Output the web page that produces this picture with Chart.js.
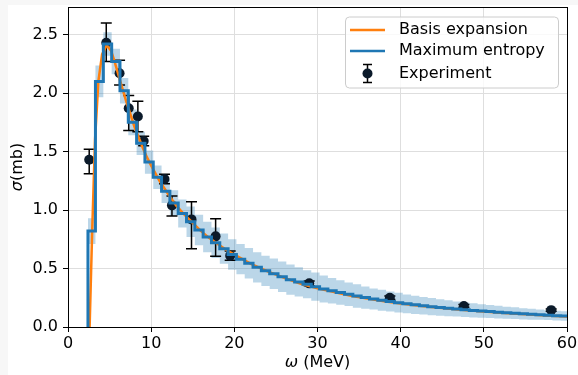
<!DOCTYPE html>
<html>
<head>
<meta charset="utf-8">
<script src="https://cdn.jsdelivr.net/npm/chart.js@4.4.1/dist/chart.umd.min.js"></script>
<style>
  body { margin: 0; background: #f7f7f7; }
  #wrap { position: absolute; left: 8px; top: 5px; width: 570px; height: 370px; background: #fff; }
  #sigmaChart { position: absolute; left: 0; top: -3px; }
</style>
</head>
<body>
<div id="wrap"><canvas id="sigmaChart" width="570" height="373"></canvas></div>
<script>
// maximum entropy histogram: bin edges (MeV), values and error (mb)
const binEdges = [2.4, 3.3, 4.25, 5.25, 6.25, 7.25, 8.25, 9.25, 10.25, 11.25, 12.25, 13.25, 14.25,
  15.25, 16.25, 17.25, 18.25, 19.25, 20.25, 21.25, 22.25, 23.25, 24.25, 25.25, 26.25, 27.25, 28.25,
  29.25, 30.25, 31.25, 32.25, 33.25, 34.25, 35.25, 36.25, 37.25, 38.25, 39.25, 40.25, 41.25, 42.25,
  43.25, 44.25, 45.25, 46.25, 47.25, 48.25, 49.25, 50.25, 51.25, 52.25, 53.25, 54.25, 55.25, 56.25,
  57.25, 58.25, 59.25, 60];
const meValues = [0.82, 2.10, 2.42, 2.27, 2.02, 1.75, 1.57, 1.41, 1.28, 1.16, 1.06, 0.97, 0.90,
  0.83, 0.77, 0.72, 0.67, 0.62, 0.58, 0.545, 0.51, 0.48, 0.455, 0.43, 0.405, 0.385, 0.365,
  0.345, 0.325, 0.31, 0.295, 0.28, 0.265, 0.252, 0.24, 0.228, 0.218, 0.208, 0.198, 0.19, 0.182,
  0.174, 0.167, 0.16, 0.154, 0.148, 0.142, 0.137, 0.132, 0.127, 0.122, 0.118, 0.113, 0.109, 0.105,
  0.101, 0.097, 0.094];
const meErr = [0.11, 0.135, 0.10, 0.11, 0.11, 0.11, 0.10, 0.10, 0.10, 0.10, 0.11, 0.12, 0.13,
  0.13, 0.13, 0.13, 0.13, 0.13, 0.13, 0.13, 0.13, 0.13, 0.13, 0.13, 0.13, 0.125, 0.12,
  0.12, 0.115, 0.11, 0.105, 0.10, 0.10, 0.095, 0.09, 0.09, 0.085, 0.085, 0.08, 0.078, 0.075,
  0.073, 0.07, 0.068, 0.065, 0.062, 0.06, 0.058, 0.056, 0.054, 0.052, 0.05, 0.048, 0.046, 0.044,
  0.042, 0.041, 0.04];

// basis expansion curve
const basisW = [2.6, 2.9, 3.25, 3.65, 4.1, 4.65, 5.2, 5.6, 6, 6.5, 7, 7.5, 8, 8.5, 9, 9.5, 10, 11, 12,
  13, 14, 15, 16, 17, 18, 19, 20, 22, 24, 26, 28, 30, 32, 34, 36, 38, 40, 42, 44, 46, 48, 50,
  52, 54, 56, 58, 60];
const basisS = [0, 0.8, 1.6, 2.1, 2.33, 2.41, 2.36, 2.27, 2.17, 2.05, 1.93, 1.82, 1.71, 1.62, 1.53,
  1.45, 1.38, 1.25, 1.14, 1.04, 0.96, 0.89, 0.82, 0.76, 0.71, 0.66, 0.62, 0.54, 0.475, 0.42, 0.37,
  0.33, 0.298, 0.268, 0.243, 0.22, 0.2, 0.183, 0.168, 0.155, 0.143, 0.132, 0.122, 0.113, 0.104,
  0.096, 0.089];

// experimental points
const expW = [2.55, 4.6, 6.2, 7.3, 8.4, 9.1, 11.6, 12.5, 14.85, 17.75, 19.5, 29.0, 38.7, 47.6, 58.1];
const expS = [1.43, 2.43, 2.17, 1.87, 1.80, 1.59, 1.265, 1.04, 0.92, 0.775, 0.61, 0.373, 0.25, 0.18, 0.144];
const expErrLo = [0.12, 0.16, 0.10, 0.19, 0.13, 0.04, 0.04, 0.09, 0.25, 0.17, 0.04, 0.02, 0.015, 0.012, 0.01];
const expErrHi = [0.09, 0.17, 0.11, 0.11, 0.13, 0.04, 0.04, 0.08, 0.15, 0.15, 0.04, 0.02, 0.015, 0.012, 0.01];

const xTicks = [0, 10, 20, 30, 40, 50, 60];
const yTicks = [0, 0.5, 1.0, 1.5, 2.0, 2.5];

const FONT = 'DejaVu Sans';
const lastBin = meValues.length - 1;

const stepLine = [{ x: binEdges[0], y: 0 }];
meValues.forEach((v, i) => stepLine.push({ x: binEdges[i], y: v }));
stepLine.push({ x: binEdges[lastBin + 1], y: meValues[lastBin] });

const bandHi = meValues.map((v, i) => ({ x: binEdges[i], y: v + meErr[i] }));
bandHi.push({ x: binEdges[lastBin + 1], y: meValues[lastBin] + meErr[lastBin] });
const bandLo = meValues.map((v, i) => ({ x: binEdges[i], y: v - meErr[i] }));
bandLo.push({ x: binEdges[lastBin + 1], y: meValues[lastBin] - meErr[lastBin] });

const basisData = basisW.map((w, i) => ({ x: w, y: basisS[i] }));
const expData = expW.map((w, i) => ({ x: w, y: expS[i] }));

const errorBars = {
  id: 'errorBars',
  beforeDatasetDraw(chart, args) {
    if (args.index !== 2) return;
    const ctx = chart.ctx, xs = chart.scales.x, ys = chart.scales.y;
    ctx.save();
    ctx.strokeStyle = '#000';
    ctx.lineWidth = 1.5;
    expW.forEach((w, i) => {
      const px = xs.getPixelForValue(w);
      const top = ys.getPixelForValue(expS[i] + expErrHi[i]);
      const bot = ys.getPixelForValue(expS[i] - expErrLo[i]);
      ctx.beginPath();
      ctx.moveTo(px, top); ctx.lineTo(px, bot);
      ctx.moveTo(px - 5.5, top); ctx.lineTo(px + 5.5, top);
      ctx.moveTo(px - 5.5, bot); ctx.lineTo(px + 5.5, bot);
      ctx.stroke();
    });
    ctx.restore();
  }
};

const decorations = {
  id: 'decorations',
  afterDraw(chart) {
    const ctx = chart.ctx, a = chart.chartArea;
    ctx.save();
    // frame
    ctx.strokeStyle = '#000';
    ctx.lineWidth = 1;
    ctx.strokeRect(Math.round(a.left) + 0.5, Math.round(a.top) + 0.5,
      Math.round(a.right - a.left), Math.round(a.bottom - a.top));

    // legend
    const lx = 337, ly = 14.5, lw = 213, lh = 71;
    ctx.beginPath();
    ctx.roundRect(lx + 0.5, ly + 0.5, lw, lh, 4);
    ctx.fillStyle = 'rgba(255,255,255,0.8)';
    ctx.fill();
    ctx.strokeStyle = '#cccccc';
    ctx.stroke();
    const rows = [28, 49, 71.5];
    ctx.lineWidth = 2.5;
    ctx.strokeStyle = '#ff7f0e';
    ctx.beginPath(); ctx.moveTo(342, rows[0]); ctx.lineTo(377, rows[0]); ctx.stroke();
    ctx.strokeStyle = '#1f77b4';
    ctx.beginPath(); ctx.moveTo(342, rows[1]); ctx.lineTo(377, rows[1]); ctx.stroke();
    ctx.strokeStyle = '#000';
    ctx.lineWidth = 1.5;
    ctx.beginPath();
    ctx.moveTo(359.5, rows[2] - 9); ctx.lineTo(359.5, rows[2] + 9);
    ctx.moveTo(355, rows[2] - 9); ctx.lineTo(364, rows[2] - 9);
    ctx.moveTo(355, rows[2] + 9); ctx.lineTo(364, rows[2] + 9);
    ctx.stroke();
    ctx.fillStyle = '#0b1a2a';
    ctx.beginPath(); ctx.arc(359.5, rows[2], 5, 0, Math.PI * 2); ctx.fill();
    ctx.fillStyle = '#000';
    ctx.font = '16px "' + FONT + '"';
    ctx.textBaseline = 'middle';
    ctx.textAlign = 'left';
    ctx.fillText('Basis expansion', 391, rows[0]);
    ctx.fillText('Maximum entropy', 391, rows[1]);
    ctx.fillText('Experiment', 391, rows[2]);

    // axis titles with italic greek letters
    const italic = 'italic 16px "' + FONT + '"', normal = '16px "' + FONT + '"';
    ctx.font = italic;
    const wOmega = ctx.measureText('\u03c9').width;
    ctx.font = normal;
    const wRest = ctx.measureText(' (MeV)').width;
    let sx = (a.left + a.right) / 2 - (wOmega + wRest) / 2;
    ctx.font = italic; ctx.fillText('\u03c9', sx, 361);
    ctx.font = normal; ctx.fillText(' (MeV)', sx + wOmega, 361);

    ctx.translate(10, (a.top + a.bottom) / 2);
    ctx.rotate(-Math.PI / 2);
    ctx.font = italic;
    const wSigma = ctx.measureText('\u03c3').width;
    ctx.font = normal;
    const wMb = ctx.measureText('(mb)').width;
    sx = -(wSigma + wMb) / 2;
    ctx.font = italic; ctx.fillText('\u03c3', sx, 0);
    ctx.font = normal; ctx.fillText('(mb)', sx + wSigma, 0);
    ctx.restore();
  }
};

new Chart(document.getElementById('sigmaChart'), {
  type: 'scatter',
  data: {
    datasets: [
      {
        label: 'Maximum entropy',
        data: stepLine,
        showLine: true,
        stepped: 'before',
        borderColor: '#1f77b4',
        borderWidth: 3,
        pointRadius: 0,
        order: 0
      },
      {
        label: 'Basis expansion',
        data: basisData,
        showLine: true,
        borderColor: '#ff7f0e',
        borderWidth: 2.5,
        pointRadius: 0,
        tension: 0,
        order: 1
      },
      {
        label: 'Experiment',
        data: expData,
        backgroundColor: '#0b1a2a',
        borderWidth: 0,
        pointRadius: 5,
        order: 2
      },
      {
        label: 'band upper',
        data: bandHi,
        showLine: true,
        stepped: 'before',
        borderWidth: 0,
        borderColor: 'rgba(0,0,0,0)',
        pointRadius: 0,
        fill: '+1',
        backgroundColor: 'rgba(31,119,180,0.3)',
        order: 3
      },
      {
        label: 'band lower',
        data: bandLo,
        showLine: true,
        stepped: 'before',
        borderWidth: 0,
        borderColor: 'rgba(0,0,0,0)',
        pointRadius: 0,
        order: 4
      }
    ]
  },
  options: {
    responsive: false,
    animation: false,
    devicePixelRatio: 1,
    layout: { padding: { top: 0, right: 11, left: 1, bottom: 0 } },
    plugins: { legend: { display: false }, tooltip: { enabled: false } },
    scales: {
      x: {
        type: 'linear',
        min: 0,
        max: 60,
        afterFit(scale) { scale.height = 48; scale.paddingLeft = 0; scale.paddingRight = 0; },
        afterBuildTicks(scale) { scale.ticks = xTicks.map(v => ({ value: v })); },
        ticks: { color: '#000', font: { family: FONT, size: 16 }, padding: 2, maxRotation: 0 },
        grid: { color: '#dedede', tickColor: '#000', tickLength: 5, lineWidth: 1 },
        border: { display: false }
      },
      y: {
        type: 'linear',
        min: 0,
        max: 2.736,
        afterFit(scale) { scale.width = 59; scale.paddingTop = 0; scale.paddingBottom = 0; },
        afterBuildTicks(scale) { scale.ticks = yTicks.map(v => ({ value: v })); },
        ticks: { color: '#000', font: { family: FONT, size: 16 }, padding: 5,
          callback: v => v.toFixed(1) },
        grid: { color: '#dedede', tickColor: '#000', tickLength: 5, lineWidth: 1 },
        border: { display: false }
      }
    }
  },
  plugins: [errorBars, decorations]
});
</script>
</body>
</html>
